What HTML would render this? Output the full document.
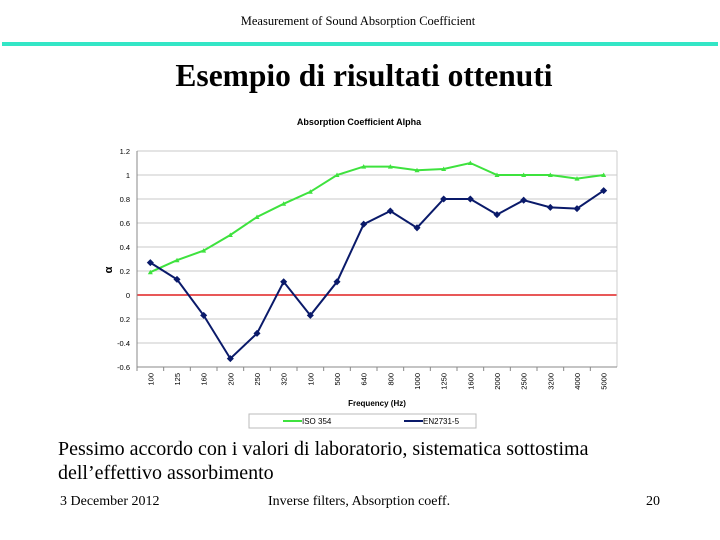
<!DOCTYPE html>
<html><head><meta charset="utf-8"><style>
body{margin:0;width:720px;height:540px;background:#fff;position:relative;overflow:hidden;font-family:"Liberation Serif",serif}
.t{position:absolute;white-space:nowrap}
</style></head><body>
<div class="t" style="left:0;width:716px;text-align:center;top:14px;font-size:12.5px">Measurement of Sound Absorption Coefficient</div>
<div style="position:absolute;left:2px;top:42px;width:716px;height:4px;background:#33e6c6"></div>
<div class="t" style="left:0;width:728px;text-align:center;top:58px;font-size:31.5px;font-weight:bold">Esempio di risultati ottenuti</div>
<svg id="chart" style="position:absolute;left:0;top:0" width="720" height="540" font-family="Liberation Sans, sans-serif"></svg>
<div class="t" style="left:58px;top:437px;font-size:20px;line-height:24px">Pessimo accordo con i valori di laboratorio, sistematica sottostima<br>dell’effettivo assorbimento</div>
<div class="t" style="left:60px;top:494px;font-size:14px">3 December 2012</div>
<div class="t" style="left:268px;top:494px;font-size:14px">Inverse filters, Absorption coeff.</div>
<div class="t" style="left:646px;top:494px;font-size:14px">20</div>
<script>
const categories=["100","125","160","200","250","320","400","500","640","800","1000","1250","1600","2000","2500","3200","4000","5000"];
const catLabels=["100","125","160","200","250","320","100","500","640","800","1000","1250","1600","2000","2500","3200","4000","5000"];
const isoValues=[0.19,0.29,0.37,0.5,0.65,0.76,0.86,1.0,1.07,1.07,1.04,1.05,1.1,1.0,1.0,1.0,0.97,1.0];
const enValues=[0.27,0.13,-0.17,-0.53,-0.32,0.11,-0.17,0.11,0.59,0.7,0.56,0.8,0.8,0.67,0.79,0.73,0.72,0.87];
const yTicks=[1.2,1,0.8,0.6,0.4,0.2,0,-0.2,-0.4,-0.6];
const yTickLabels=["1.2","1","0.8","0.6","0.4","0.2","0","0.2","-0.4","-0.6"];
const svg=document.getElementById('chart');const NS='http://www.w3.org/2000/svg';
const L=137,R=617,T=151,B=367,ymin=-0.6,ymax=1.2;
const step=(R-L)/categories.length;
const x=i=>L+step*(i+0.5);
const y=v=>B-(v-ymin)/(ymax-ymin)*(B-T);
function mk(t,a){const e=document.createElementNS(NS,t);for(const k in a)e.setAttribute(k,a[k]);svg.appendChild(e);return e;}
let e=mk('text',{x:359,y:125,'text-anchor':'middle','font-size':9,'font-weight':'bold'});e.textContent='Absorption Coefficient Alpha';


yTicks.forEach((v,i)=>{
 let g=mk('line',{x1:L,x2:R,y1:y(v),y2:y(v),stroke:v===0?'#e02020':'#c8c8c8','stroke-width':v===0?1.5:1});
 
 
 let t=mk('text',{x:L-7,y:y(v)+3,'text-anchor':'end','font-size':7.5});t.textContent=yTickLabels[i];
 
 
});
e=mk('line',{x1:L,x2:L,y1:T,y2:B,stroke:'#888'});


e=mk('line',{x1:R,x2:R,y1:T,y2:B,stroke:'#ccc'});


e=mk('line',{x1:L,x2:R,y1:B,y2:B,stroke:'#888'});


e=mk('text',{x:112,y:270,'font-size':11,'font-weight':'bold','text-anchor':'middle',transform:'rotate(-90 112 270)'});e.textContent='α';


categories.forEach((c,i)=>{
 let tk=mk('line',{x1:L+step*i,x2:L+step*i,y1:B,y2:B+4,stroke:'#888'});
 
 
 let t=mk('text',{x:x(i)+3,y:B+6,'font-size':7.5,'text-anchor':'end',transform:`rotate(-90 ${x(i)+3} ${B+6})`});t.textContent=catLabels[i];
 
 
});
e=mk('text',{x:377,y:406,'text-anchor':'middle','font-size':8,'font-weight':'bold'});e.textContent='Frequency (Hz)';


function series(vals,color,name,marker){
 let p=mk('polyline',{points:vals.map((v,i)=>x(i)+','+y(v)).join(' '),fill:'none',stroke:color,'stroke-width':2});
 
 
 vals.forEach((v,i)=>{
  let m=marker==='d'?mk('rect',{x:x(i)-2.5,y:y(v)-2.5,width:5,height:5,fill:color,transform:`rotate(45 ${x(i)} ${y(v)})`}):mk('polygon',{points:`${x(i)},${y(v)-2.5} ${x(i)-2.5},${y(v)+2} ${x(i)+2.5},${y(v)+2}`,fill:color});
  
  
 });
}
series(isoValues,'#3ee23e','iso354','t');
series(enValues,'#0a1a6a','en2731','d');
e=mk('rect',{x:249,y:414,width:227,height:14,fill:'#fff',stroke:'#bbb'});


e=mk('line',{x1:283,x2:302,y1:421,y2:421,stroke:'#3ee23e','stroke-width':2});


e=mk('text',{x:302,y:424,'font-size':8});e.textContent='ISO 354';


e=mk('line',{x1:404,x2:423,y1:421,y2:421,stroke:'#0a1a6a','stroke-width':2});


e=mk('text',{x:423,y:424,'font-size':8});e.textContent='EN2731-5';


</script>
</body></html>
